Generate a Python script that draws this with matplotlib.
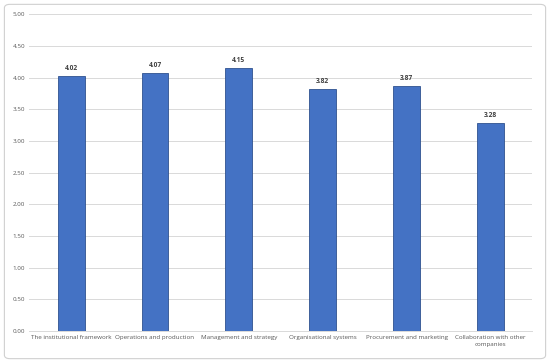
import matplotlib
matplotlib.use('Agg')
import matplotlib.pyplot as plt
from matplotlib.patches import FancyBboxPatch
import numpy as np

categories = ["The institutional framework", "Operations and production", "Management and strategy",
              "Organisational systems", "Procurement and marketing", "Collaboration with other\ncompanies"]
values = [4.02, 4.07, 4.15, 3.82, 3.87, 3.28]
yticks = np.arange(0, 5.01, 0.5)

plt.rcParams['font.family'] = ['Open Sans', 'DejaVu Sans']

fig = plt.figure(figsize=(5.5, 3.63), dpi=100)
# cornice esterna grigia (dietro agli assi)
fig.patches.append(FancyBboxPatch((0.008, 0.012), 0.984, 0.976, boxstyle="round,pad=0,rounding_size=0.01",
                                  transform=fig.transFigure, facecolor='none', edgecolor='#d0d0d0', lw=0.8,
                                  zorder=-1))
ax = fig.add_axes([0.053, 0.088, 0.915, 0.873])

x = np.arange(len(categories))
ax.bar(x, values, width=0.32, color='#4472C4', edgecolor='#2F528F', linewidth=0.6, zorder=3)
for xi, v in zip(x, values):
    ax.text(xi, v + 0.06, f"{v:.2f}", ha='center', va='bottom', fontsize=4.8, fontweight='bold', color='#404040')

ax.set_ylim(0, 5)
ax.set_xlim(-0.5, len(categories) - 0.5)
ax.set_yticks(yticks)
ax.set_yticklabels([f"{t:.2f}" for t in yticks], fontsize=4.5, color='#595959')
ax.set_xticks(x)
ax.set_xticklabels(categories, fontsize=4.5, color='#595959', linespacing=1.4)
ax.yaxis.grid(True, color='#d9d9d9', lw=0.7, zorder=0)
ax.tick_params(length=0, pad=3)
for s in ['top', 'right', 'left']:
    ax.spines[s].set_visible(False)
ax.spines['bottom'].set_color('#d9d9d9')
ax.spines['bottom'].set_linewidth(0.7)
ax.patch.set_alpha(0)

fig.savefig('out.png', dpi=100)
